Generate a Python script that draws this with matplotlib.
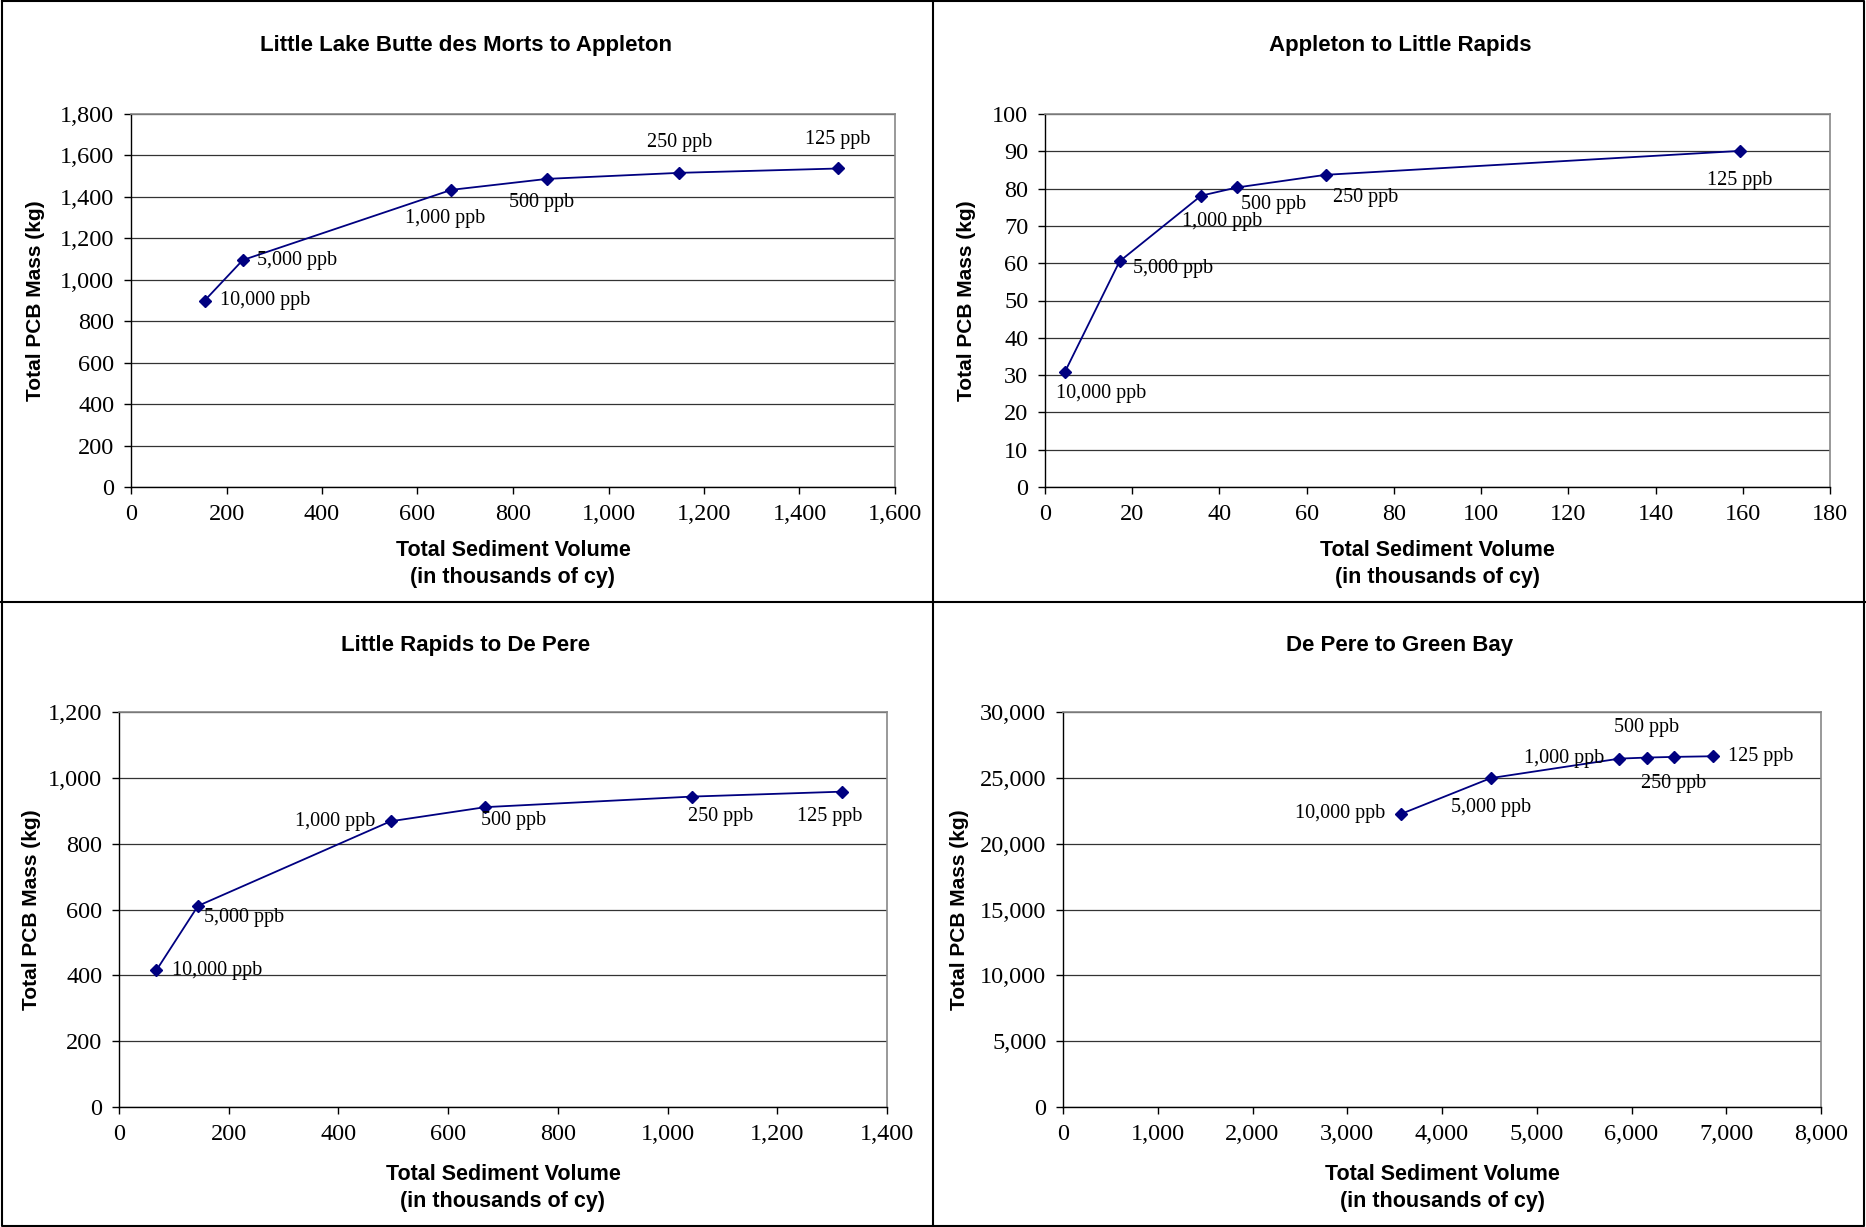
import matplotlib
matplotlib.use("Agg")
import matplotlib.pyplot as plt
from matplotlib.ticker import FuncFormatter, MultipleLocator
from matplotlib.lines import Line2D

# data
labels = ["10,000 ppb", "5,000 ppb", "1,000 ppb", "500 ppb", "250 ppb", "125 ppb"]

titles = ["Little Lake Butte des Morts to Appleton", "Appleton to Little Rapids",
          "Little Rapids to De Pere", "De Pere to Green Bay"]

vol_1 = [154, 234, 671, 872, 1148, 1481]
pcb_1 = [899, 1095, 1434, 1487, 1516, 1537]

vol_2 = [4.5, 17.1, 35.8, 44.0, 64.4, 159.3]
pcb_2 = [30.7, 60.5, 78.1, 80.3, 83.7, 90.1]

vol_3 = [68, 144, 495, 668, 1044, 1318]
pcb_3 = [415, 611, 868, 911, 943, 958]

vol_4 = [3572, 4515, 5873, 6164, 6444, 6864]
pcb_4 = [22270, 24980, 26460, 26540, 26590, 26640]

W, H = 1866, 1227
fig = plt.figure(figsize=(W / 100, H / 100), dpi=100)

serif = "Liberation Serif"
sans = ["Liberation Sans Narrow", "Liberation Sans", "DejaVu Sans"]
navy = "#000080"

fmt = FuncFormatter(lambda v, p: f"{v:,.0f}")

# (rect in px: left, right, top, bottom), xlim, xstep, ylim, ystep, label offsets (dx, dy, ha)
panels = [
    (vol_1, pcb_1, (131, 895, 114, 487), 1600, 200, 1800, 200,
     [(15, 0, "left"), (14, 0, "left"), (-6, -29, "center"), (-6, -24, "center"),
      (0, 30, "center"), (0, 29, "center")]),
    (vol_2, pcb_2, (1045, 1830, 114, 487), 180, 20, 100, 10,
     [(36, -21, "center"), (13, -7, "left"), (21, -26, "center"), (4, -17, "left"),
      (7, -23, "left"), (0, -30, "center")]),
    (vol_3, pcb_3, (119, 887, 712, 1107), 1400, 200, 1200, 200,
     [(16, 0, "left"), (6, -12, "left"), (-15, 0, "right"), (-4, -13, "left"),
      (29, -20, "center"), (-12, -25, "center")]),
    (vol_4, pcb_4, (1063, 1821, 712, 1107), 8000, 1000, 30000, 5000,
     [(-16, 0, "right"), (0, -29, "center"), (-15, 0, "right"), (0, 30, "center"),
      (0, -27, "center"), (15, 0, "left")]),
]

title_y = [45, 45, 645, 645]
xlab_y = [(550, 577), (550, 577), (1175, 1202), (1175, 1202)]
ylab_x = [36, 967, 32, 959]
cell_cx = [466, 1400, 466, 1400]

for i, (xs, ys, (l, r, t, b), xmax, xstep, ymax, ystep, offs) in enumerate(panels):
    ax = fig.add_axes([l / W, 1 - b / H, (r - l) / W, (b - t) / H])
    ax.plot(xs, ys, color=navy, lw=1.3, marker="D", ms=6.5, mfc=navy, mec=navy)
    ax.set_xlim(0, xmax)
    ax.set_ylim(0, ymax)
    ax.xaxis.set_major_locator(MultipleLocator(xstep))
    ax.yaxis.set_major_locator(MultipleLocator(ystep))
    ax.xaxis.set_major_formatter(fmt)
    ax.yaxis.set_major_formatter(fmt)
    ax.grid(axis="y", color="#333333", lw=0.9)
    ax.set_axisbelow(True)
    for s in ["top", "right"]:
        ax.spines[s].set_color("#888888")
        ax.spines[s].set_linewidth(1.2)
    for s in ["left", "bottom"]:
        ax.spines[s].set_color("black")
        ax.spines[s].set_linewidth(1.0)
    ax.tick_params(direction="out", length=5, width=1, pad=7, labelsize=17.5)
    for lab in ax.get_xticklabels() + ax.get_yticklabels():
        lab.set_fontfamily(serif)
    for (x, y, txt, (dx, dy, ha)) in zip(xs, ys, labels, offs):
        ax.annotate(txt, (x, y), xytext=(dx, dy), textcoords="offset pixels",
                    ha=ha, va="center", fontsize=14.5, family=serif, color="black")

    fig.text(cell_cx[i] / W, 1 - title_y[i] / H, titles[i], ha="center", va="center",
             fontsize=16, fontweight="bold", family=sans)
    cx = (l + r) / 2 / W
    fig.text(cx, 1 - xlab_y[i][0] / H, "Total Sediment Volume", ha="center", va="center",
             fontsize=15.5, fontweight="bold", family=sans)
    fig.text(cx, 1 - xlab_y[i][1] / H, "(in thousands of cy)", ha="center", va="center",
             fontsize=15.5, fontweight="bold", family=sans)
    fig.text(ylab_x[i] / W, 1 - (t + b) / 2 / H, "Total PCB Mass (kg)", ha="center",
             va="center", rotation=90, fontsize=15, fontweight="bold", family=sans)

# cell borders
kw = dict(color="black", lw=1.5, transform=fig.transFigure)
fig.add_artist(Line2D([0.001, 0.999, 0.999, 0.001, 0.001], [0.999, 0.999, 0.001, 0.001, 0.999], **kw))
fig.add_artist(Line2D([933 / W, 933 / W], [0, 1], **kw))
fig.add_artist(Line2D([0, 1], [1 - 602 / H, 1 - 602 / H], **kw))

fig.savefig("out.png", dpi=100)
